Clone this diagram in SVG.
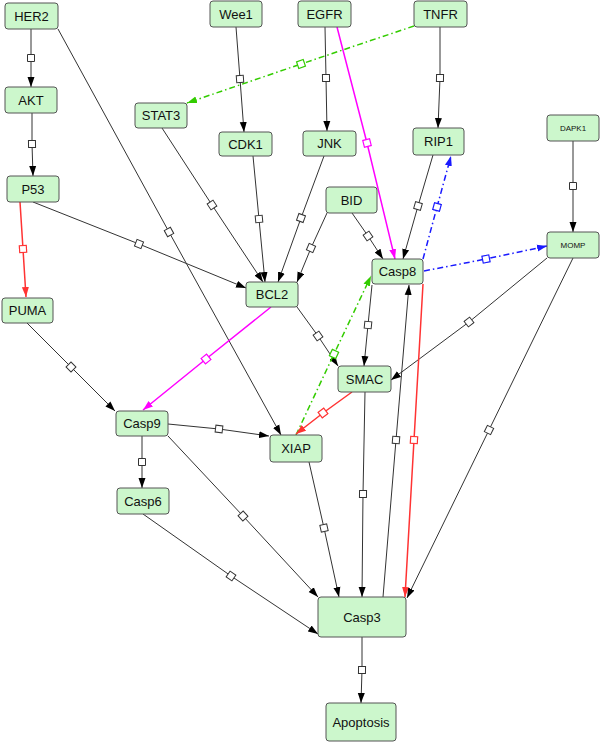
<svg xmlns="http://www.w3.org/2000/svg" width="600" height="742" viewBox="0 0 600 742">
<style>
.n rect{fill:#ccf7cc;stroke:#555;stroke-width:1}
.n text{font-family:"Liberation Sans",Arial,sans-serif;font-size:13px;fill:#111;text-anchor:middle}
.n text.s{font-size:8px}
#edges polyline{fill:none}
.k{stroke:#333;stroke-width:1;marker-mid:url(#sqk);marker-end:url(#ark)}
.k0{stroke:#333;stroke-width:1;marker-end:url(#ark)}
.r{stroke:#ff3333;stroke-width:1.5;marker-mid:url(#sqr);marker-end:url(#arr)}
.m{stroke:#ff00ff;stroke-width:1.5;marker-mid:url(#sqm);marker-end:url(#arm)}
.g{stroke:#33cc00;stroke-width:1.5;stroke-dasharray:6 3 1.5 3;marker-mid:url(#sqg);marker-end:url(#arg)}
.b{stroke:#1a1aff;stroke-width:1.5;stroke-dasharray:6 3 1.5 3;marker-mid:url(#sqb);marker-end:url(#arb)}
</style>
<defs>
<marker id="ark" markerUnits="userSpaceOnUse" markerWidth="11" markerHeight="8" refX="10" refY="4" orient="auto"><path d="M0,0.5 L10,4 L0,7.5 z" fill="#000"/></marker>
<marker id="arr" markerUnits="userSpaceOnUse" markerWidth="11" markerHeight="8" refX="10" refY="4" orient="auto"><path d="M0,0.5 L10,4 L0,7.5 z" fill="#ff3333"/></marker>
<marker id="arm" markerUnits="userSpaceOnUse" markerWidth="11" markerHeight="8" refX="10" refY="4" orient="auto"><path d="M0,0.5 L10,4 L0,7.5 z" fill="#ff00ff"/></marker>
<marker id="arg" markerUnits="userSpaceOnUse" markerWidth="11" markerHeight="8" refX="10" refY="4" orient="auto"><path d="M0,0.5 L10,4 L0,7.5 z" fill="#33cc00"/></marker>
<marker id="arb" markerUnits="userSpaceOnUse" markerWidth="11" markerHeight="8" refX="10" refY="4" orient="auto"><path d="M0,0.5 L10,4 L0,7.5 z" fill="#1a1aff"/></marker>
<marker id="sqk" markerUnits="userSpaceOnUse" markerWidth="9" markerHeight="9" refX="4.5" refY="4.5" orient="auto"><rect x="1" y="1" width="7" height="7" fill="#fff" stroke="#333" stroke-width="1"/></marker>
<marker id="sqr" markerUnits="userSpaceOnUse" markerWidth="9" markerHeight="9" refX="4.5" refY="4.5" orient="auto"><rect x="1" y="1" width="7" height="7" fill="#fff" stroke="#ff3333" stroke-width="1.2"/></marker>
<marker id="sqm" markerUnits="userSpaceOnUse" markerWidth="9" markerHeight="9" refX="4.5" refY="4.5" orient="auto"><rect x="1" y="1" width="7" height="7" fill="#fff" stroke="#ff00ff" stroke-width="1.2"/></marker>
<marker id="sqg" markerUnits="userSpaceOnUse" markerWidth="9" markerHeight="9" refX="4.5" refY="4.5" orient="auto"><rect x="1" y="1" width="7" height="7" fill="#fff" stroke="#33cc00" stroke-width="1.2"/></marker>
<marker id="sqb" markerUnits="userSpaceOnUse" markerWidth="9" markerHeight="9" refX="4.5" refY="4.5" orient="auto"><rect x="1" y="1" width="7" height="7" fill="#fff" stroke="#1a1aff" stroke-width="1.2"/></marker>
</defs>
<rect width="600" height="742" fill="#fff"/>
<g id="edges">
<polyline class="k" points="31,29 31,58 31,87"/>
<polyline class="k" points="32,113 32,144 33,176"/>
<polyline class="k" points="58,29 169,232 281,435"/>
<polyline class="k" points="236,27 240,79 244,132"/>
<polyline class="k" points="325,27 326,78 327,131"/>
<polyline class="m" points="337,27 367,143 395,259"/>
<polyline class="g" points="414,26 301,64 187,103"/>
<polyline class="k" points="440,27 440,78 438,128"/>
<polyline class="k" points="162,128 212,205 263,282"/>
<polyline class="k" points="253,156 259,219 265,282"/>
<polyline class="k" points="324,156 301,218 278,282"/>
<polyline class="k" points="327,213 311,248 297,282"/>
<polyline class="k" points="352,213 368,236 383,259"/>
<polyline class="k" points="433,155 418,206 403,259"/>
<polyline class="b" points="423,259 437,207 451,156"/>
<polyline class="b" points="424,271 486,259 547,246"/>
<polyline class="k" points="573,141 573,186 573,232"/>
<polyline class="k" points="33,202 139,244 246,288"/>
<polyline class="r" points="20,202 23,249 26,297"/>
<polyline class="k" points="27,323 71,367 115,411"/>
<polyline class="m" points="271,307 206,359 143,410"/>
<polyline class="k" points="297,307 318,336 338,366"/>
<polyline class="k" points="547,258 469,322 391,380"/>
<polyline class="k" points="372,285 368,325 364,366"/>
<polyline class="g" points="296,435 334,354 371,276"/>
<polyline class="k" points="365,392 363,494 362,597"/>
<polyline class="r" points="352,392 323,413 296,434"/>
<polyline class="k" points="168,424 219,429 269,436"/>
<polyline class="k" points="142,436 142,462 142,488"/>
<polyline class="k" points="168,436 243,516 318,597"/>
<polyline class="k" points="143,514 231,576 318,634"/>
<polyline class="k" points="309,462 324,528 339,597"/>
<polyline class="k" points="383,597 396,440 409,285"/>
<polyline class="r" points="423,284 414,440 405,597"/>
<polyline class="k" points="573,258 489,430 407,598"/>
<polyline class="k" points="362,637 362,670 361,703"/>
</g>
<g id="HER2" class="n"><rect x="5" y="3" width="53" height="26" rx="3"/><text x="31.5" y="20.5">HER2</text></g>
<g id="AKT" class="n"><rect x="5" y="87" width="52" height="26" rx="3"/><text x="31" y="104.5">AKT</text></g>
<g id="P53" class="n"><rect x="7" y="176" width="52" height="26" rx="3"/><text x="33" y="193.5">P53</text></g>
<g id="STAT3" class="n"><rect x="135" y="103" width="52" height="25" rx="3"/><text x="161" y="120">STAT3</text></g>
<g id="Wee1" class="n"><rect x="210" y="1" width="52" height="26" rx="3"/><text x="236" y="18.5">Wee1</text></g>
<g id="EGFR" class="n"><rect x="298" y="1" width="53" height="26" rx="3"/><text x="324.5" y="18.5">EGFR</text></g>
<g id="TNFR" class="n"><rect x="414" y="1" width="53" height="26" rx="3"/><text x="440.5" y="18.5">TNFR</text></g>
<g id="CDK1" class="n"><rect x="219" y="132" width="53" height="24" rx="3"/><text x="245.5" y="148.5">CDK1</text></g>
<g id="JNK" class="n"><rect x="303" y="131" width="53" height="25" rx="3"/><text x="329.5" y="148">JNK</text></g>
<g id="RIP1" class="n"><rect x="413" y="128" width="51" height="27" rx="3"/><text x="438.5" y="146">RIP1</text></g>
<g id="DAPK1" class="n"><rect x="547" y="115" width="52" height="26" rx="3"/><text class="s" x="573" y="131">DAPK1</text></g>
<g id="BID" class="n"><rect x="326" y="187" width="51" height="26" rx="3"/><text x="351.5" y="204.5">BID</text></g>
<g id="MOMP" class="n"><rect x="547" y="232" width="52" height="26" rx="3"/><text class="s" x="573" y="248">MOMP</text></g>
<g id="Casp8" class="n"><rect x="372" y="259" width="51" height="25" rx="3"/><text x="397.5" y="276">Casp8</text></g>
<g id="BCL2" class="n"><rect x="246" y="282" width="52" height="25" rx="3"/><text x="272" y="299">BCL2</text></g>
<g id="PUMA" class="n"><rect x="2" y="298" width="51" height="25" rx="3"/><text x="27.5" y="315">PUMA</text></g>
<g id="SMAC" class="n"><rect x="338" y="366" width="53" height="26" rx="3"/><text x="364.5" y="383.5">SMAC</text></g>
<g id="Casp9" class="n"><rect x="116" y="411" width="52" height="25" rx="3"/><text x="142" y="428">Casp9</text></g>
<g id="XIAP" class="n"><rect x="270" y="435" width="52" height="27" rx="3"/><text x="296" y="453">XIAP</text></g>
<g id="Casp6" class="n"><rect x="117" y="488" width="52" height="26" rx="3"/><text x="143" y="505.5">Casp6</text></g>
<g id="Casp3" class="n"><rect x="318" y="597" width="88" height="40" rx="3"/><text x="362" y="621.5">Casp3</text></g>
<g id="Apoptosis" class="n"><rect x="326" y="703" width="70" height="38" rx="3"/><text x="361" y="726.5">Apoptosis</text></g>
</svg>
